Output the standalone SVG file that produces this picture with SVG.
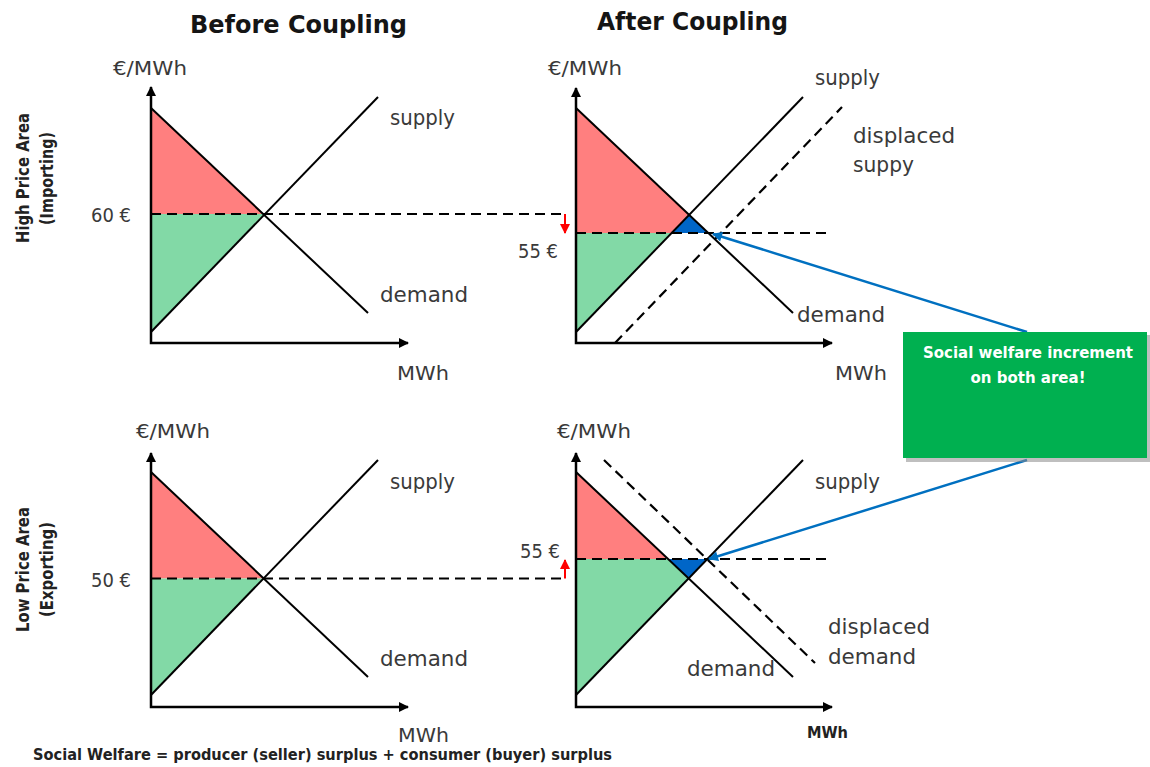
<svg xmlns="http://www.w3.org/2000/svg" width="1150" height="767" viewBox="0 0 1150 767">
<style>
.lbl{font-family:"DejaVu Sans",sans-serif;fill:#3a3a3a}
.big{font-size:21px}
.unit{font-size:19px}
.ttl{font-family:"DejaVu Sans",sans-serif;font-weight:bold;font-size:24px;fill:#151515}
.side{font-family:"DejaVu Sans",sans-serif;font-weight:bold;font-size:18px;fill:#222}
.foot{font-family:"DejaVu Sans",sans-serif;font-weight:bold;font-size:15px;fill:#222}
.box{font-family:"DejaVu Sans",sans-serif;font-weight:bold;font-size:15px;fill:#ffffff}
.axis{fill:none;stroke:#000;stroke-width:2.5;marker-start:url(#ax);marker-end:url(#ax)}
.curve{fill:none;stroke:#000;stroke-width:2}
.dash{fill:none;stroke:#000;stroke-width:2.2;stroke-dasharray:10 6}
.red{fill:#FF7F7F}
.grn{fill:#82D9A6}
.blu{fill:#0066C8}
.rarr{fill:none;stroke:#FF0000;stroke-width:2;marker-end:url(#ra)}
.barr{fill:none;stroke:#0070C0;stroke-width:2.5;marker-end:url(#ba)}
</style>
<defs>
<marker id="ax" viewBox="0 0 10 10" refX="9" refY="5" markerWidth="11" markerHeight="10" markerUnits="userSpaceOnUse" orient="auto-start-reverse"><path d="M0,0 L10,5 L0,10 z" fill="#000"/></marker>
<marker id="ra" viewBox="0 0 10 10" refX="9" refY="5" markerWidth="10" markerHeight="10" markerUnits="userSpaceOnUse" orient="auto"><path d="M0,0 L10,5 L0,10 z" fill="#FF0000"/></marker>
<marker id="ba" viewBox="0 0 10 10" refX="9" refY="5" markerWidth="13" markerHeight="10" markerUnits="userSpaceOnUse" orient="auto"><path d="M0,0 L10,5 L0,10 z" fill="#0070C0"/></marker>
</defs>
<rect width="1150" height="767" fill="#ffffff"/>

<text class="ttl" x="190" y="33" textLength="217" lengthAdjust="spacingAndGlyphs">Before Coupling</text>
<text class="ttl" x="597" y="30" textLength="191" lengthAdjust="spacingAndGlyphs">After Coupling</text>

<g id="side-labels">
<text class="side" transform="translate(29,178) rotate(-90)" text-anchor="middle" textLength="130" lengthAdjust="spacingAndGlyphs">High Price Area</text>
<text class="side" transform="translate(53,178.5) rotate(-90)" text-anchor="middle" textLength="93" lengthAdjust="spacingAndGlyphs">(Importing)</text>
<text class="side" transform="translate(29,569.5) rotate(-90)" text-anchor="middle" textLength="125" lengthAdjust="spacingAndGlyphs">Low Price Area</text>
<text class="side" transform="translate(53,569.5) rotate(-90)" text-anchor="middle" textLength="95" lengthAdjust="spacingAndGlyphs">(Exporting)</text>
</g>

<g id="panel-top-before">
<polygon class="red" points="151,108 264,214 151,214"/>
<polygon class="grn" points="151,214 264,214 151,332"/>
<path class="axis" d="M151,87 L151,343 L408,343"/>
<path class="curve" d="M151,108 L368,313"/>
<path class="curve" d="M151,332 L378,97"/>
<text class="lbl unit" x="113" y="75" textLength="74" lengthAdjust="spacingAndGlyphs">€/MWh</text>
<text class="lbl big" x="390" y="125" textLength="65" lengthAdjust="spacingAndGlyphs">supply</text>
<text class="lbl big" x="380" y="302" textLength="88" lengthAdjust="spacingAndGlyphs">demand</text>
<text class="lbl unit" x="397" y="380" textLength="52" lengthAdjust="spacingAndGlyphs">MWh</text>
<text class="lbl unit" x="91" y="222" textLength="40" lengthAdjust="spacingAndGlyphs">60 €</text>
</g>

<g id="panel-top-after">
<polygon class="red" points="576,108 689,214 671.6,233 576,233"/>
<polygon class="grn" points="576,233 671.6,233 576,332"/>
<polygon class="blu" points="689,214 671.6,233 708.3,233"/>
<path class="axis" d="M576,88 L576,343 L832,343"/>
<path class="curve" d="M576,108 L793,313"/>
<path class="curve" d="M576,332 L803,97"/>
<path class="dash" d="M615,343 L842,107"/>
<path class="dash" d="M576,233 L832,233"/>
<text class="lbl unit" x="548" y="75" textLength="74" lengthAdjust="spacingAndGlyphs">€/MWh</text>
<text class="lbl big" x="815" y="85" textLength="65" lengthAdjust="spacingAndGlyphs">supply</text>
<text class="lbl big" x="853" y="143" textLength="102" lengthAdjust="spacingAndGlyphs">displaced</text>
<text class="lbl big" x="853" y="172" textLength="61" lengthAdjust="spacingAndGlyphs">suppy</text>
<text class="lbl big" x="797" y="322" textLength="88" lengthAdjust="spacingAndGlyphs">demand</text>
<text class="lbl unit" x="835" y="380" textLength="52" lengthAdjust="spacingAndGlyphs">MWh</text>
<text class="lbl unit" x="518" y="258" textLength="40" lengthAdjust="spacingAndGlyphs">55 €</text>
</g>

<g id="panel-bottom-before">
<polygon class="red" points="151,472 264,578.5 151,578.5"/>
<polygon class="grn" points="151,578.5 264,578.5 151,695"/>
<path class="axis" d="M151,453 L151,707 L408,707"/>
<path class="curve" d="M151,472 L368,677"/>
<path class="curve" d="M151,695 L378,460"/>
<text class="lbl unit" x="136" y="438" textLength="74" lengthAdjust="spacingAndGlyphs">€/MWh</text>
<text class="lbl big" x="390" y="489" textLength="65" lengthAdjust="spacingAndGlyphs">supply</text>
<text class="lbl big" x="380" y="666" textLength="88" lengthAdjust="spacingAndGlyphs">demand</text>
<text class="lbl unit" x="398" y="742" textLength="51" lengthAdjust="spacingAndGlyphs">MWh</text>
<text class="lbl unit" x="91" y="587" textLength="40" lengthAdjust="spacingAndGlyphs">50 €</text>
</g>

<g id="panel-bottom-after">
<polygon class="red" points="576,472 668,559 576,559"/>
<polygon class="grn" points="576,559 668,559 689,578.5 576,695"/>
<polygon class="blu" points="668,559 707.4,559 689,578.5"/>
<path class="axis" d="M576,453 L576,707 L832,707"/>
<path class="curve" d="M576,472 L793,677"/>
<path class="curve" d="M576,695 L803,460"/>
<path class="dash" d="M604,460 L815,663"/>
<path class="dash" d="M576,559 L832,559"/>
<text class="lbl unit" x="557" y="438" textLength="74" lengthAdjust="spacingAndGlyphs">€/MWh</text>
<text class="lbl big" x="815" y="489" textLength="65" lengthAdjust="spacingAndGlyphs">supply</text>
<text class="lbl big" x="828" y="634" textLength="102" lengthAdjust="spacingAndGlyphs">displaced</text>
<text class="lbl big" x="828" y="664" textLength="88" lengthAdjust="spacingAndGlyphs">demand</text>
<text class="lbl big" x="687" y="676" textLength="88" lengthAdjust="spacingAndGlyphs">demand</text>
<text x="807" y="738" font-family="DejaVu Sans, sans-serif" font-weight="bold" font-size="15" fill="#222" textLength="41" lengthAdjust="spacingAndGlyphs">MWh</text>
<text class="lbl unit" x="520" y="558" textLength="40" lengthAdjust="spacingAndGlyphs">55 €</text>
</g>

<g id="connectors">
<path class="dash" d="M151,214 L565,214"/>
<path class="dash" d="M151,578.5 L565,578.5"/>
<path class="rarr" d="M565,214 L565,233"/>
<path class="rarr" d="M565,578.5 L565,560"/>
<path class="barr" d="M1027,332 L713,234"/>
<path class="barr" d="M1027,460 L709,559"/>
</g>

<g id="callout">
<rect x="906" y="335" width="244" height="127" fill="#8a8a8a" opacity="0.55"/>
<rect x="903" y="332" width="244" height="126" fill="#00B050"/>
<text class="box" x="1028" y="358" text-anchor="middle" textLength="210" lengthAdjust="spacingAndGlyphs">Social welfare increment</text>
<text class="box" x="1028" y="383" text-anchor="middle" textLength="115" lengthAdjust="spacingAndGlyphs">on both area!</text>
</g>

<text class="foot" x="33" y="760" textLength="579" lengthAdjust="spacingAndGlyphs">Social Welfare = producer (seller) surplus + consumer (buyer) surplus</text>
</svg>
